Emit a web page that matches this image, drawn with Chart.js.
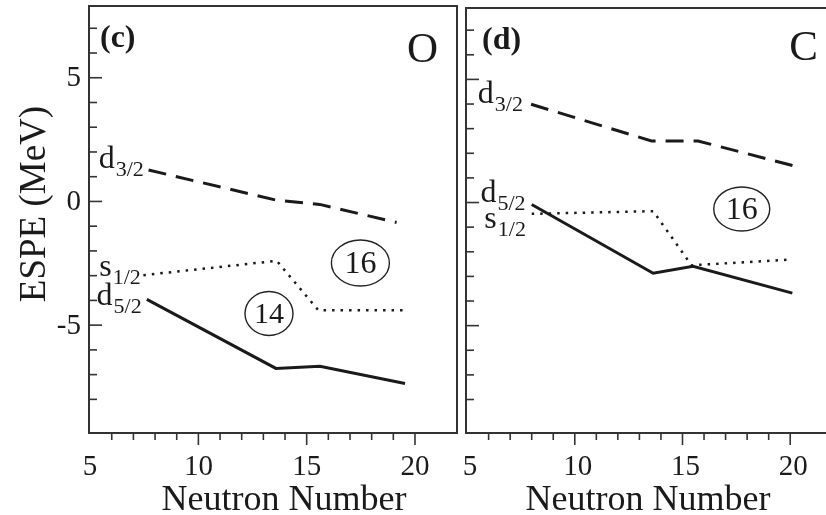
<!DOCTYPE html>
<html>
<head>
<meta charset="utf-8">
<script src="https://cdn.jsdelivr.net/npm/chart.js@4.4.1/dist/chart.umd.min.js"></script>
<style>
  html, body { margin: 0; padding: 0; background: #fff; width: 826px; height: 515px; overflow: hidden; }
  canvas { position: absolute; top: 0; }
  #cO { left: 0; }
  #cC { left: 462px; }
</style>
</head>
<body>
<canvas id="cO" width="462" height="515"></canvas>
<canvas id="cC" width="380" height="515"></canvas>
<script>
/* ESPE vs numero di neutroni: pannello (c) ossigeno, pannello (d) carbonio.
 * Valori letti a occhio dalla figura originale. */

// --- pannello (c), O ---
const O_d32_N = [7.7, 13.6, 15.6, 19.15];
const O_d32_E = [1.27, 0.05, -0.12, -0.85];
const O_s12_N = [7.46, 13.62, 15.54, 19.46];
const O_s12_E = [-2.98, -2.40, -4.40, -4.40];
const O_d52_N = [7.62, 13.58, 15.61, 19.54];
const O_d52_E = [-3.96, -6.75, -6.66, -7.36];

// --- pannello (d), C ---
const C_d32_N = [7.97, 13.56, 15.72, 20.13];
const C_d32_E = [3.99, 2.50, 2.50, 1.50];
const C_s12_N = [8.0, 13.64, 15.42, 19.9];
const C_s12_E = [-0.46, -0.35, -2.55, -2.32];
const C_d52_N = [8.0, 13.64, 15.49, 20.1];
const C_d52_E = [-0.08, -2.87, -2.59, -3.68];

// assi
const X_TICKS = [6, 7, 8, 9, 10, 11, 12, 13, 14, 15, 16, 17, 18, 19, 20];
const X_MAJOR = [10, 15, 20];
const X_LABELS = [5, 10, 15, 20];
const Y_TICKS = [-8, -7, -6, -5, -4, -3, -2, -1, 0, 1, 2, 3, 4, 5, 6, 7];
const Y_MAJOR = [-5, 0, 5];
const Y_LABELS = [-5, 0, 5];

const SERIF = "'Liberation Serif', 'Times New Roman', serif";
const INK = '#1a1a1a';

const pts = (xs, ys) => xs.map((x, i) => ({ x, y: ys[i] }));

function ds(label, data, opts = {}) {
  return {
    label, data, showLine: true, borderColor: INK, backgroundColor: INK,
    borderWidth: opts.bw || 3, borderDash: opts.dash || [], pointRadius: 0, tension: 0,
  };
}

/* cornice, tacche, etichette e annotazioni disegnate sopra il grafico */
const frame = {
  id: 'frame',
  afterDraw(chart, args, o) {
    const { ctx, chartArea: a, scales: { x, y } } = chart;
    const seg = (x1, y1, x2, y2) => { ctx.beginPath(); ctx.moveTo(x1, y1); ctx.lineTo(x2, y2); ctx.stroke(); };
    ctx.save();
    ctx.strokeStyle = '#333'; ctx.lineWidth = 2;
    ctx.strokeRect(a.left, a.top, a.right - a.left, a.bottom - a.top);

    ctx.lineWidth = 1.6;
    X_TICKS.forEach((v) => { const px = x.getPixelForValue(v); seg(px, a.bottom, px, a.bottom + (X_MAJOR.includes(v) ? 12 : 7)); });
    Y_TICKS.forEach((v) => { const py = y.getPixelForValue(v); seg(a.left, py, a.left + (Y_MAJOR.includes(v) ? 13 : 8), py); });

    ctx.fillStyle = INK;
    ctx.font = '29px ' + SERIF;
    ctx.textAlign = 'center'; ctx.textBaseline = 'alphabetic';
    X_LABELS.forEach((v) => ctx.fillText(String(v), x.getPixelForValue(v) + (o.xLabShift || 0), 475));
    if (o.yLabels) {
      ctx.textAlign = 'right'; ctx.textBaseline = 'middle';
      Y_LABELS.forEach((v) => ctx.fillText(v < 0 ? '-' + Math.abs(v) : String(v), 81, y.getPixelForValue(v) + 1));
    }

    // titoli
    ctx.font = '36px ' + SERIF; ctx.textAlign = 'center'; ctx.textBaseline = 'alphabetic';
    ctx.fillText('Neutron Number', x.getPixelForValue(o.titleX), 510);
    if (o.yTitle) {
      ctx.save(); ctx.translate(45, 204); ctx.rotate(-Math.PI / 2);
      ctx.font = '37px ' + SERIF; ctx.fillText(o.yTitle, 0, 0); ctx.restore();
    }

    // lettera del pannello ed elemento
    ctx.textAlign = 'left';
    ctx.font = 'bold 32px ' + SERIF; ctx.fillText(o.letter, a.left + o.letterDx, a.top + 41);
    ctx.textAlign = 'right';
    ctx.font = '43px ' + SERIF; ctx.fillText(o.elem, a.right - o.elemDx, a.top + o.elemDy);

    // etichette dei livelli
    ctx.textAlign = 'left';
    o.levels.forEach((l) => {
      const px = x.getPixelForValue(l.x), py = y.getPixelForValue(l.y);
      ctx.font = '32px ' + SERIF; ctx.fillText(l.main, px, py);
      const w = ctx.measureText(l.main).width;
      ctx.font = '22px ' + SERIF; ctx.fillText(l.sub, px + w + 1, py + 8);
    });

    // numeri magici cerchiati
    ctx.textAlign = 'center'; ctx.textBaseline = 'middle';
    ctx.lineWidth = 1.4; ctx.strokeStyle = '#222';
    o.circles.forEach((c) => {
      const px = x.getPixelForValue(c.x), py = y.getPixelForValue(c.y);
      ctx.beginPath(); ctx.ellipse(px, py, c.rx, c.ry, 0, 0, Math.PI * 2); ctx.stroke();
      ctx.font = c.size + 'px ' + SERIF; ctx.fillText(c.text, px, py + 2);
    });
    ctx.restore();
  },
};

function panel(id, sets, pad, fr) {
  return new Chart(document.getElementById(id), {
    type: 'scatter',
    data: { datasets: sets },
    options: {
      responsive: false, animation: false, devicePixelRatio: 1,
      layout: { padding: pad },
      plugins: { legend: { display: false }, tooltip: { enabled: false }, frame: fr },
      scales: {
        x: { type: 'linear', min: 4.95, max: 21.94, display: false },
        y: { type: 'linear', min: -9.36, max: 7.9, display: false },
      },
    },
    plugins: [frame],
  });
}

const DASH = [18, 10], DOT = [2.5, 6];

panel('cO', [
  ds('d3/2', pts(O_d32_N, O_d32_E), { dash: DASH }),
  ds('s1/2', pts(O_s12_N, O_s12_E), { dash: DOT, bw: 2.5 }),
  ds('d5/2', pts(O_d52_N, O_d52_E)),
], { left: 89, top: 6, right: 5, bottom: 82 }, {
  yLabels: true, yTitle: 'ESPE (MeV)', titleX: 13.95,
  letter: '(c)', letterDx: 11, elem: 'O', elemDx: 19, elemDy: 56,
  levels: [
    { main: 'd', sub: '3/2', x: 5.4, y: 1.35 },
    { main: 's', sub: '1/2', x: 5.42, y: -3.02 },
    { main: 'd', sub: '5/2', x: 5.3, y: -4.19 },
  ],
  circles: [
    { text: '16', x: 17.48, y: -2.49, rx: 29, ry: 23, size: 32 },
    { text: '14', x: 13.26, y: -4.53, rx: 24, ry: 22, size: 30 },
  ],
});

panel('cC', [
  ds('d3/2', pts(C_d32_N, C_d32_E), { dash: DASH }),
  ds('s1/2', pts(C_s12_N, C_s12_E), { dash: DOT, bw: 2.5 }),
  ds('d5/2', pts(C_d52_N, C_d52_E)),
], { left: 4, top: 8, right: 10, bottom: 82 }, {
  yLabels: false, titleX: 13.4, xLabShift: 3,
  letter: '(d)', letterDx: 16, elem: 'C', elemDx: 14, elemDy: 52,
  levels: [
    { main: 'd', sub: '3/2', x: 5.5, y: 4.05 },
    { main: 'd', sub: '5/2', x: 5.62, y: 0.01 },
    { main: 's', sub: '1/2', x: 5.8, y: -1.05 },
  ],
  circles: [
    { text: '16', x: 17.75, y: -0.26, rx: 28, ry: 22, size: 32 },
  ],
});
</script>
</body>
</html>
